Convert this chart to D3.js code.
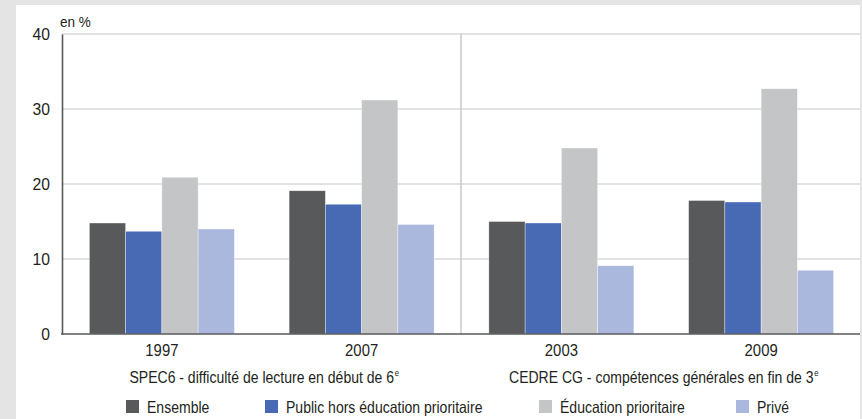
<!DOCTYPE html>
<html>
<head>
<meta charset="utf-8">
<script src="https://cdn.jsdelivr.net/npm/d3@7"></script>
<style>
  body { margin: 0; background: #e4e4e4; }
  svg { display: block; }
  text { font-family: "Liberation Sans", Arial, sans-serif; fill: #231f20; }
</style>
</head>
<body>
<svg width="862" height="419"></svg>
<script>
// data
var years = ["1997", "2007", "2003", "2009"];
var series = ["Ensemble", "Public hors éducation prioritaire", "Éducation prioritaire", "Privé"];
var colors = ["#58595b", "#4869b4", "#c4c5c7", "#aab8de"];
var ensemble = [14.8, 19.1, 15.0, 17.8];
var publicHors = [13.7, 17.3, 14.8, 17.6];
var educPrio = [20.9, 31.2, 24.8, 32.7];
var prive = [14.0, 14.6, 9.1, 8.5];
var yTicks = [0, 10, 20, 30, 40];
var studies = [
  {label: "SPEC6 - difficulté de lecture en début de 6", sup: "e", from: "1997", to: "2007"},
  {label: "CEDRE CG - compétences générales en fin de 3", sup: "e", from: "2003", to: "2009"}
];

var values = [ensemble, publicHors, educPrio, prive];

var svg = d3.select("svg");

// squeeze text so it looks like a condensed face
function condense(sel, k) {
  sel.each(function() {
    var w = this.getComputedTextLength();
    d3.select(this).attr("textLength", w * k).attr("lengthAdjust", "spacingAndGlyphs");
  });
}

// white panel
svg.append("rect")
    .attr("x", 16).attr("y", 5)
    .attr("width", 844).attr("height", 414)
    .attr("fill", "#fff");

var x0 = d3.scaleBand().domain(years).range([62, 861]);
var x1 = d3.scaleBand().domain(d3.range(series.length)).range([0, 145]);
var y = d3.scaleLinear().domain([0, 40]).range([334, 34]);

// grid lines
svg.selectAll(".grid")
    .data(yTicks.filter(function(d) { return d > 0; }))
    .enter().append("line")
    .attr("class", "grid")
    .attr("x1", 62).attr("x2", 860)
    .attr("y1", function(d) { return y(d); })
    .attr("y2", function(d) { return y(d); })
    .attr("stroke", "#d9d9d9")
    .attr("stroke-width", 1.5);

// divider between the two studies
svg.append("line")
    .attr("x1", 461).attr("x2", 461)
    .attr("y1", y(40)).attr("y2", y(0))
    .attr("stroke", "#c8c8c8")
    .attr("stroke-width", 1.5);

// bars
var groups = svg.selectAll(".group")
    .data(years)
    .enter().append("g")
    .attr("class", "group")
    .attr("transform", function(d) { return "translate(" + (x0(d) + x0.bandwidth() / 2 - 72.5) + ",0)"; });

groups.selectAll("rect")
    .data(function(d, i) { return values.map(function(v, s) { return {s: s, v: v[i]}; }); })
    .enter().append("rect")
    .attr("x", function(d) { return x1(d.s); })
    .attr("width", x1.bandwidth())
    .attr("y", function(d) { return y(d.v); })
    .attr("height", function(d) { return y(0) - y(d.v); })
    .attr("fill", function(d) { return colors[d.s]; })
    .attr("stroke", "rgba(255,255,255,0.6)")
    .attr("stroke-width", 0.6);

// y axis
var yAxis = d3.axisLeft(y).tickValues(yTicks).tickSize(0).tickPadding(12);
var gy = svg.append("g").attr("transform", "translate(62,0)").call(yAxis);
gy.select(".domain").attr("stroke", "#58595b").attr("stroke-width", 1.6);
gy.selectAll("text").style("font-size", "16.5px").attr("fill", "#231f20")
    .attr("font-family", null);
condense(gy.selectAll("text"), 0.95);

// x axis line
svg.append("line")
    .attr("x1", 61).attr("x2", 860)
    .attr("y1", y(0)).attr("y2", y(0))
    .attr("stroke", "#58595b")
    .attr("stroke-width", 1.6);

// year labels
var xAxis = d3.axisBottom(x0).tickSize(0).tickPadding(10);
var gx = svg.append("g").attr("transform", "translate(0," + y(0) + ")").call(xAxis);
gx.select(".domain").remove();
gx.selectAll("text").style("font-size", "16.5px").attr("fill", "#231f20")
    .attr("font-family", null);
condense(gx.selectAll("text"), 0.9);

// unit label
var unit = svg.append("text")
    .attr("x", 60).attr("y", 27)
    .style("font-size", "15px")
    .text("en %");
condense(unit, 0.9);

// study labels: squeezed horizontally, superscript as its own text
var sg = svg.selectAll(".study")
    .data(studies)
    .enter().append("g")
    .attr("class", "study")
    .attr("transform", function(d) {
      return "translate(" + ((x0(d.from) + x0(d.to) + x0.bandwidth()) / 2) + ",383) scale(0.85,1)";
    });
sg.append("text")
    .attr("text-anchor", "middle")
    .style("font-size", "16.5px")
    .text(function(d) { return d.label; })
    .each(function(d) {
      var w = this.getComputedTextLength();
      d3.select(this.parentNode).append("text")
          .attr("x", w / 2 + 1)
          .attr("y", -7.5)
          .style("font-size", "9px")
          .text(d.sup);
    });

// legend
var legendX = [126, 265, 539, 736];
var leg = svg.selectAll(".legend")
    .data(series)
    .enter().append("g")
    .attr("class", "legend")
    .attr("transform", function(d, i) { return "translate(" + legendX[i] + ",400)"; });
leg.append("rect")
    .attr("width", 13).attr("height", 13)
    .attr("fill", function(d, i) { return colors[i]; });
var legText = leg.append("text")
    .attr("x", 21).attr("y", 13)
    .style("font-size", "16.5px")
    .text(function(d) { return d; });
condense(legText, 0.85);
</script>
</body>
</html>
